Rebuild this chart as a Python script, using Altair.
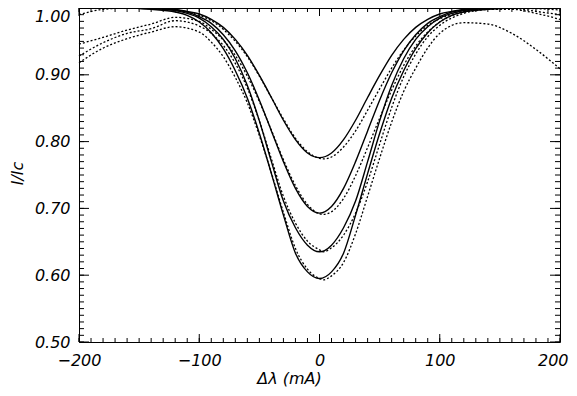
import altair as alt
import pandas as pd

# ---- data ----
X_SOLID = [-200, -180, -160, -140, -120, -110, -100, -90, -80, -70, -60, -50, -40, -30, -20, -10,
           0, 10, 20, 30, 40, 50, 60, 70, 80, 90, 100, 110, 120, 140, 160, 180, 200]
S1 = [1.0, 1.0, 1.0, 1.0, 0.998, 0.995, 0.991, 0.983, 0.971, 0.953, 0.929, 0.899, 0.866, 0.832, 0.803, 0.783,
      0.776, 0.783, 0.803, 0.832, 0.866, 0.899, 0.929, 0.953, 0.971, 0.983, 0.991, 0.995, 0.998, 1.0, 1.0, 1.0, 1.0]
S2 = [1.0, 1.0, 1.0, 0.999, 0.997, 0.994, 0.987, 0.977, 0.960, 0.936, 0.903, 0.862, 0.816, 0.770, 0.730, 0.703,
      0.693, 0.703, 0.730, 0.770, 0.816, 0.862, 0.903, 0.936, 0.960, 0.977, 0.987, 0.994, 0.997, 0.999, 1.0, 1.0, 1.0]
S3 = [1.0, 1.0, 1.0, 0.999, 0.996, 0.992, 0.985, 0.972, 0.953, 0.924, 0.884, 0.831, 0.770, 0.711, 0.671, 0.645,
      0.635, 0.645, 0.671, 0.711, 0.770, 0.831, 0.884, 0.924, 0.953, 0.972, 0.985, 0.992, 0.996, 0.999, 1.0, 1.0, 1.0]
S4 = [1.0, 1.0, 1.0, 0.998, 0.994, 0.989, 0.979, 0.963, 0.939, 0.906, 0.865, 0.812, 0.752, 0.690, 0.633, 0.605,
      0.595, 0.605, 0.633, 0.690, 0.752, 0.812, 0.865, 0.906, 0.939, 0.963, 0.979, 0.989, 0.994, 0.998, 1.0, 1.0, 1.0]

X_DOT = [-200, -180, -160, -140, -120, -100, -90, -80, -70, -60, -50, -40, -30, -20, -10, 0, 3,
         10, 20, 30, 40, 50, 60, 70, 80, 90, 100, 120, 140, 160, 180, 200]
D1 = [0.990, 0.998, 1.0, 0.999, 0.997, 0.989, 0.981, 0.968, 0.950, 0.927, 0.898, 0.866, 0.834, 0.805, 0.785, 0.775, 0.774,
      0.777, 0.792, 0.816, 0.847, 0.879, 0.910, 0.937, 0.958, 0.974, 0.984, 0.995, 0.999, 1.0, 0.995, 0.990]
D2 = [0.946, 0.956, 0.967, 0.976, 0.986, 0.980, 0.968, 0.952, 0.929, 0.898, 0.860, 0.817, 0.773, 0.734, 0.706, 0.692, 0.691,
      0.695, 0.715, 0.749, 0.791, 0.835, 0.877, 0.914, 0.943, 0.964, 0.979, 0.994, 0.998, 0.998, 0.992, 0.983]
D3 = [0.928, 0.948, 0.962, 0.969, 0.981, 0.973, 0.962, 0.944, 0.917, 0.880, 0.831, 0.774, 0.718, 0.678, 0.651, 0.638, 0.635,
      0.641, 0.660, 0.693, 0.740, 0.796, 0.851, 0.897, 0.931, 0.957, 0.974, 0.992, 0.998, 0.9995, 0.999, 0.997]
D4 = [0.918, 0.940, 0.954, 0.964, 0.972, 0.964, 0.949, 0.927, 0.896, 0.858, 0.809, 0.753, 0.694, 0.640, 0.609, 0.595, 0.593,
      0.599, 0.619, 0.662, 0.718, 0.775, 0.829, 0.875, 0.910, 0.940, 0.962, 0.978, 0.976, 0.962, 0.938, 0.909]

X_MAJOR = [-200, -100, 0, 100, 200]
X_MINOR = list(range(-200, 201, 10))
Y_MAJOR = [0.5, 0.6, 0.7, 0.8, 0.9, 1.0]
Y_MINOR = [round(0.5 + 0.01 * i, 2) for i in range(51)]

# ---- tables ----
solid_rows = []
for name, ys in [("s1", S1), ("s2", S2), ("s3", S3), ("s4", S4)]:
    for xv, yv in zip(X_SOLID, ys):
        solid_rows.append({"x": xv, "y": yv, "curve": name})
dot_rows = []
for name, ys in [("d1", D1), ("d2", D2), ("d3", D3), ("d4", D4)]:
    for xv, yv in zip(X_DOT, ys):
        dot_rows.append({"x": xv, "y": yv, "curve": name})
solid_df = pd.DataFrame(solid_rows)
dot_df = pd.DataFrame(dot_rows)
xmaj_df = pd.DataFrame({"x": X_MAJOR})
xmin_df = pd.DataFrame({"x": X_MINOR})
ymaj_df = pd.DataFrame({"y": Y_MAJOR})
ymin_df = pd.DataFrame({"y": Y_MINOR})

W, H = 481, 334
FONT = "DejaVu Sans"

XS = alt.Scale(domain=[-200, 200], nice=False, zero=False)
YS = alt.Scale(domain=[0.5, 1.0], nice=False, zero=False)
X_AX = alt.Axis(values=X_MAJOR, format="d", ticks=False, tickSize=0, domain=False, grid=False,
                labelFont=FONT, labelFontStyle="italic", labelFontSize=16, labelColor="black",
                labelPadding=10, labelFlush=False, labelOverlap=False, labelBound=False,
                labelAlign={"condition": {"test": "datum.value >= 200", "value": "right"}, "value": "center"},
                labelOffset={"condition": {"test": "datum.value >= 200", "value": 8}, "value": 0},
                title="Δλ   (mA)", titleFont=FONT, titleFontStyle="italic", titleFontWeight="normal",
                titleFontSize=16, titleColor="black", titleX=210, titleY=41, titleAlign="center",
                titleBaseline="alphabetic", titleAngle=0)
Y_AX = alt.Axis(values=Y_MAJOR, format=".2f", ticks=False, tickSize=0, domain=False, grid=False,
                labelFont=FONT, labelFontStyle="italic", labelFontSize=16, labelColor="black",
                labelPadding=9, labelFlush=False, labelOverlap=False, labelBound=False,
                labelBaseline={"condition": {"test": "datum.value >= 1", "value": "top"}, "value": "middle"},
                title="I/Ic", titleFont=FONT, titleFontStyle="italic", titleFontWeight="normal",
                titleFontSize=16, titleColor="black", titleX=-57, titleY=165, titleAlign="center",
                titleBaseline="alphabetic", titleAngle=270)

xenc = alt.X("x:Q", scale=XS, axis=X_AX)
yenc = alt.Y("y:Q", scale=YS, axis=Y_AX)

solid = alt.Chart(solid_df).mark_line(color="black", strokeWidth=1.4, interpolate="monotone").encode(
    x=xenc, y=yenc, detail="curve:N")
dotted = alt.Chart(dot_df).mark_line(color="black", strokeWidth=1.3, strokeDash=[2, 2],
                                     interpolate="monotone").encode(x=xenc, y=yenc, detail="curve:N")

def xticks(df, length):
    bot = alt.Chart(df).mark_rule(color="black", strokeWidth=1).encode(
        x=xenc, y=alt.value(H), y2=alt.value(H - length))
    top = alt.Chart(df).mark_rule(color="black", strokeWidth=1).encode(
        x=xenc, y=alt.value(0), y2=alt.value(length))
    return [bot, top]

def yticks(df, length):
    left = alt.Chart(df).mark_rule(color="black", strokeWidth=1).encode(
        y=yenc, x=alt.value(0), x2=alt.value(length))
    right = alt.Chart(df).mark_rule(color="black", strokeWidth=1).encode(
        y=yenc, x=alt.value(W), x2=alt.value(W - length))
    return [left, right]

layers = [solid, dotted] + xticks(xmaj_df, 8) + xticks(xmin_df, 4) + yticks(ymaj_df, 10) + yticks(ymin_df, 5)

chart = alt.layer(*layers).properties(
    width=W, height=H,
    autosize=alt.AutoSizeParams(type="none"),
    padding={"left": 71, "top": 0, "right": 9, "bottom": 46},
    background="white",
).configure_view(stroke="black", strokeWidth=1)

chart.save("out.html", embed_options={"renderer": "svg", "actions": False})
